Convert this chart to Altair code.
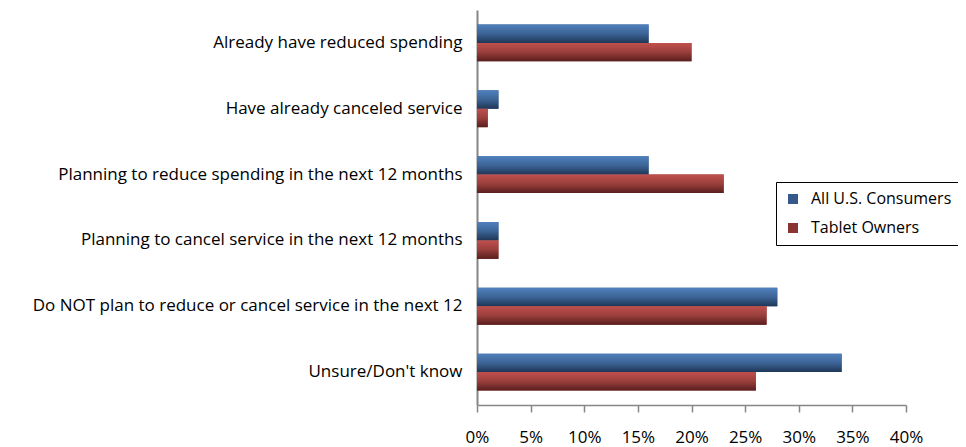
import altair as alt
import pandas as pd

categories = [
    "Already have reduced spending",
    "Have already canceled service ",
    "Planning to reduce spending in the next 12 months",
    "Planning to cancel service in the next 12 months",
    "Do NOT plan to reduce or cancel service in the next 12",
    "Unsure/Don't know",
]
series_names = ["All U.S. Consumers", "Tablet Owners"]
all_consumers = [16, 2, 16, 2, 28, 34]
tablet_owners = [20, 1, 23, 2, 27, 26]
x_ticks = [0, 5, 10, 15, 20, 25, 30, 35, 40]

rows = []
for c, a, t in zip(categories, all_consumers, tablet_owners):
    rows.append({"category": c, "series": series_names[0], "value": a})
    rows.append({"category": c, "series": series_names[1], "value": t})
df = pd.DataFrame(rows)

FONT = "Open Sans"
FS = 17

y_enc = alt.Y(
    "category:N",
    sort=categories,
    title=None,
    scale=alt.Scale(paddingInner=0.44, paddingOuter=0.22),
    axis=alt.Axis(
        labelFont=FONT, labelFontSize=FS, labelColor="#000000", labelLimit=600,
        labelPadding=15, ticks=False, domainColor="#868686", domainWidth=2,
    ),
)
x_enc = alt.X(
    "value:Q",
    title=None,
    scale=alt.Scale(domain=[0, 40], nice=False),
    axis=alt.Axis(
        values=x_ticks, labelExpr="datum.value + '%'", grid=False,
        labelFlush=False, labelOverlap=False,
        labelFont=FONT, labelFontSize=FS, labelColor="#000000", labelPadding=17,
        tickSize=7, tickColor="#868686", tickWidth=1.5,
        domainColor="#868686", domainWidth=1.5,
    ),
)
yoff = alt.YOffset("series:N", scale=alt.Scale(domain=series_names))

base = alt.Chart(df).mark_bar().encode(
    x=x_enc,
    y=y_enc,
    yOffset=yoff,
    color=alt.Color(
        "series:N",
        scale=alt.Scale(domain=series_names, range=["#34598A", "#8A3331"]),
        legend=alt.Legend(
            title=None, orient="none", legendX=299, legendY=172,
            symbolType="square", symbolSize=100, symbolStrokeWidth=0,
            labelFont=FONT, labelFontSize=16, labelColor="#000000",
            labelOffset=10, rowPadding=13, padding=9,
            strokeColor="#000000", fillColor="#ffffff",
        ),
    ),
)

grad_blue = alt.Gradient(
    gradient="linear", x1=0, x2=0, y1=0, y2=1,
    stops=[alt.GradientStop(color="#4F81BD", offset=0),
           alt.GradientStop(color="#3C6496", offset=0.5),
           alt.GradientStop(color="#1F3656", offset=1)],
)
grad_red = alt.Gradient(
    gradient="linear", x1=0, x2=0, y1=0, y2=1,
    stops=[alt.GradientStop(color="#C0504D", offset=0),
           alt.GradientStop(color="#9A3F3C", offset=0.5),
           alt.GradientStop(color="#581E1D", offset=1)],
)

blue = alt.Chart(df).transform_filter(
    alt.datum.series == series_names[0]
).mark_bar(color=grad_blue).encode(x=x_enc, y=y_enc, yOffset=yoff)
red = alt.Chart(df).transform_filter(
    alt.datum.series == series_names[1]
).mark_bar(color=grad_red).encode(x=x_enc, y=y_enc, yOffset=yoff)

chart = alt.layer(base, blue, red).properties(
    width=429,
    height=395,
    autosize=alt.AutoSizeParams(type="none"),
    padding={"left": 469, "top": 2, "right": 52, "bottom": 42},
).configure_view(stroke=None)

chart.save("out.html", embed_options={"renderer": "svg", "actions": False})
